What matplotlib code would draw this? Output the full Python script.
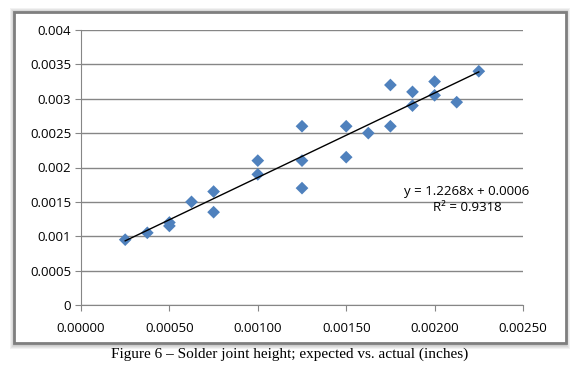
import numpy as np
import matplotlib.pyplot as plt
from matplotlib.patches import Rectangle

# expected joint height (x) vs actual (y), inches
expected = [0.00025, 0.000375, 0.0005, 0.0005, 0.000625, 0.00075, 0.00075,
            0.001, 0.001, 0.00125, 0.00125, 0.00125, 0.0015, 0.0015,
            0.001625, 0.00175, 0.00175, 0.001875, 0.001875, 0.002, 0.002,
            0.002125, 0.00225]
actual = [0.00095, 0.00105, 0.0012, 0.00115, 0.0015, 0.00165, 0.00135,
          0.0021, 0.0019, 0.0026, 0.0021, 0.0017, 0.0026, 0.00215,
          0.0025, 0.0032, 0.0026, 0.0031, 0.0029, 0.00325, 0.00305,
          0.00295, 0.0034]
xticks = [0, 0.0005, 0.001, 0.0015, 0.002, 0.0025]
yticks = [0, 0.0005, 0.001, 0.0015, 0.002, 0.0025, 0.003, 0.0035, 0.004]
ylabels = ["0", "0.0005", "0.001", "0.0015", "0.002", "0.0025", "0.003", "0.0035", "0.004"]
eq_text = "y = 1.2268x + 0.0006\nR² = 0.9318"
caption = "Figure 6 – Solder joint height; expected vs. actual (inches)"

W, H = 579, 371
fig = plt.figure(figsize=(W / 100, H / 100), dpi=100)
fig.patch.set_facecolor("white")

# soft shadow + chart frame
for i in range(4):
    d = 4 - i
    fig.patches.append(Rectangle(((14 - d) / W, 1 - (343 + d + 2) / H),
                                 (552 + 2 * d) / W, (331 + 2 * d + 2) / H,
                                 transform=fig.transFigure, facecolor="black",
                                 alpha=0.05, edgecolor="none", zorder=0))
fig.patches.append(Rectangle((14 / W, 1 - 343 / H), 552 / W, 331 / H,
                             transform=fig.transFigure, facecolor="white",
                             edgecolor="#7f7f7f", lw=2, zorder=1))

ax = fig.add_axes([81 / W, 1 - 305 / H, 442 / W, 275 / H])
ax.set_zorder(2)
ax.patch.set_alpha(0)

ax.scatter(expected, actual, marker="D", s=42, color="#4F81BD",
           edgecolors="none", zorder=3)

k, b = np.polyfit(expected, actual, 1)
xs = np.array([min(expected), max(expected)])
ax.plot(xs, k * xs + b, color="black", lw=1, zorder=4)

ax.set_xlim(0, 0.0025)
ax.set_ylim(0, 0.004)
ax.set_xticks(xticks)
ax.set_xticklabels([f"{v:.5f}" for v in xticks])
ax.set_yticks(yticks)
ax.set_yticklabels(ylabels)
ax.grid(axis="y", color="#868686", lw=1)
ax.set_axisbelow(True)
for s in ["top", "right"]:
    ax.spines[s].set_visible(False)
for s in ["left", "bottom"]:
    ax.spines[s].set_color("#868686")
ax.tick_params(direction="out", length=4, color="#868686",
               labelsize=9.5, labelcolor="#000000", pad=3)
for lab in ax.get_xticklabels() + ax.get_yticklabels():
    lab.set_family("Open Sans")
ax.xaxis.set_tick_params(pad=8)

fig.text(467 / W, 1 - 200 / H, eq_text, ha="center", va="center",
         multialignment="center", fontsize=9.5, family="Open Sans",
         linespacing=1.3, zorder=5)

fig.text(290 / W, 1 - 354 / H, caption, ha="center", va="center",
         fontsize=11, family="Liberation Serif")

fig.savefig("out.png", dpi=100)
